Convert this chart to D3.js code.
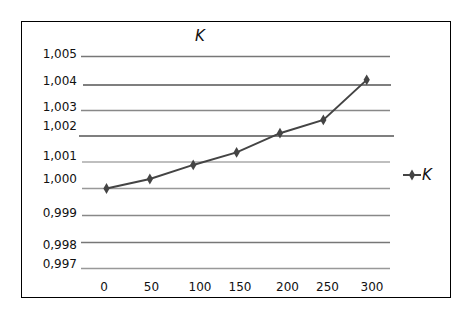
<!DOCTYPE html>
<html>
<head>
<meta charset="utf-8">
<script src="https://cdn.jsdelivr.net/npm/d3@7"></script>
<style>
  body { margin: 0; background: #fff; }
  text { font-family: "DejaVu Sans", sans-serif; fill: #111; }
</style>
</head>
<body>
<div id="chart"></div>
<script>
// data
var seriesName = "K";
var xValues = [0, 50, 100, 150, 200, 250, 300];
var kValues = [1.0000, 1.00036, 1.00089, 1.00137, 1.00211, 1.00263, 1.00418];
var yTicks = [0.997, 0.998, 0.999, 1.000, 1.001, 1.002, 1.003, 1.004, 1.005];
var yTickLabels = ["0,997", "0,998", "0,999", "1,000", "1,001", "1,002", "1,003", "1,004", "1,005"];

var width = 468, height = 316;

var svg = d3.select("#chart").append("svg")
    .attr("width", width)
    .attr("height", height);

// the original is hand-edited, so the grid isn't evenly spaced: piecewise scales
var y = d3.scaleLinear()
    .domain(yTicks)
    .range([268.5, 242.5, 215.5, 188.5, 162, 136, 110.5, 85, 56.5]);
var yLabel = d3.scaleLinear()
    .domain(yTicks)
    .range([268.3, 249, 216.7, 183.3, 160, 130, 111, 85.3, 58.3]);

var x = d3.scaleLinear().domain([0, 300]).range([106.5, 366.7]);
var xLabel = d3.scaleLinear()
    .domain(xValues)
    .range([104, 151.5, 200, 240, 287.5, 327.5, 372]);

// frame
svg.append("rect")
    .attr("x", 21.5).attr("y", 21.5)
    .attr("width", 429).attr("height", 276)
    .attr("fill", "#fff")
    .attr("stroke", "#000")
    .attr("stroke-width", 1);

// grid lines
var gridShade = ["#999", "#777", "#888", "#999", "#aaa", "#555", "#888", "#555", "#777"];
var gridX0 = [81, 81, 82, 82, 82, 79, 81, 83, 81];
var gridX1 = [390, 390, 390, 390, 390, 394, 390, 391, 390];

svg.append("g").attr("class", "grid")
    .selectAll("line")
    .data(yTicks)
    .enter().append("line")
    .attr("x1", function(d, i) { return gridX0[i]; })
    .attr("x2", function(d, i) { return gridX1[i]; })
    .attr("y1", function(d) { return y(d); })
    .attr("y2", function(d) { return y(d); })
    .attr("stroke", function(d, i) { return gridShade[i]; })
    .attr("stroke-width", 1.6);

// y labels
svg.append("g").attr("class", "axis y")
    .selectAll("text")
    .data(yTicks)
    .enter().append("text")
    .attr("x", 77)
    .attr("y", function(d) { return yLabel(d); })
    .attr("text-anchor", "end")
    .style("font-size", "12px")
    .text(function(d, i) { return yTickLabels[i]; });

// x labels
svg.append("g").attr("class", "axis x")
    .selectAll("text")
    .data(xValues)
    .enter().append("text")
    .attr("x", function(d) { return xLabel(d); })
    .attr("y", 291)
    .attr("text-anchor", "middle")
    .style("font-size", "12px")
    .text(function(d) { return d; });

// series
var pts = xValues.map(function(d, i) { return {x: d, k: kValues[i]}; });

var line = d3.line()
    .curve(d3.curveLinear)
    .x(function(d) { return x(d.x); })
    .y(function(d) { return y(d.k); });

svg.append("path")
    .datum(pts)
    .attr("d", line)
    .attr("fill", "none")
    .attr("stroke", "#444")
    .attr("stroke-width", 2);

var marker = d3.symbol().type(d3.symbolDiamond).size(34);

svg.append("g").attr("class", "markers")
    .selectAll("path")
    .data(pts)
    .enter().append("path")
    .attr("d", marker)
    .attr("transform", function(d) { return "translate(" + x(d.x) + "," + y(d.k) + ")"; })
    .attr("fill", "#444");

// title
svg.append("text")
    .attr("x", 200)
    .attr("y", 41)
    .attr("text-anchor", "middle")
    .style("font-size", "15px")
    .style("font-style", "italic")
    .text(seriesName);

// legend
var legend = svg.append("g").attr("class", "legend")
    .attr("transform", "translate(403,175)");
legend.append("line")
    .attr("x1", 0).attr("x2", 18)
    .attr("y1", 0).attr("y2", 0)
    .attr("stroke", "#444")
    .attr("stroke-width", 2);
legend.append("path")
    .attr("d", marker)
    .attr("transform", "translate(9,0)")
    .attr("fill", "#444");
legend.append("text")
    .attr("x", 19)
    .attr("y", 5)
    .style("font-size", "15px")
    .style("font-style", "italic")
    .text(seriesName);
</script>
</body>
</html>
